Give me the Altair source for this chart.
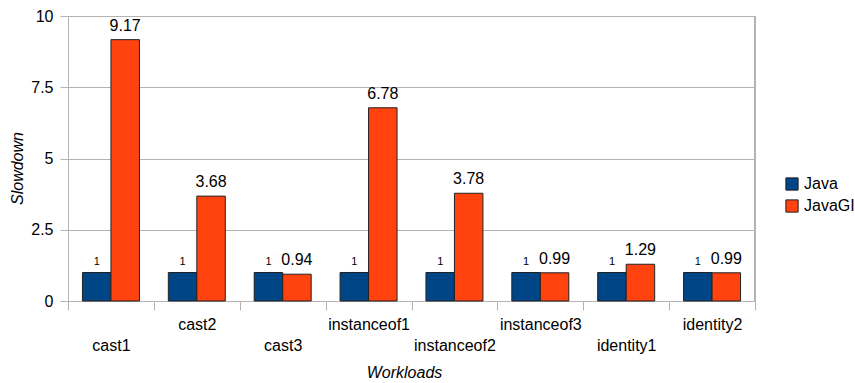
import altair as alt
import pandas as pd

categories = ["cast1", "cast2", "cast3", "instanceof1", "instanceof2", "instanceof3", "identity1", "identity2"]
series = ["Java", "JavaGI"]
java = [1, 1, 1, 1, 1, 1, 1, 1]
javagi = [9.17, 3.68, 0.94, 6.78, 3.78, 0.99, 1.29, 0.99]
y_ticks = [0, 2.5, 5, 7.5, 10]
colors = ["#004586", "#ff420e"]

rows = []
for c, a, b in zip(categories, java, javagi):
    rows.append({"workload": c, "series": "Java", "value": a})
    rows.append({"workload": c, "series": "JavaGI", "value": b})
df = pd.DataFrame(rows)

lower = categories[0::2]
lower_list = "[" + ",".join("'" + s + "'" for s in lower) + "]"
label_expr = f"indexof({lower_list}, datum.value) >= 0 ? ['', datum.label] : datum.label"

W, H = 687, 285
GRID = "#b3b3b3"
FONT = "Liberation Sans"
FS = 16

x_enc = alt.X(
    "workload:N",
    sort=categories,
    scale=alt.Scale(paddingInner=0, paddingOuter=0),
    axis=alt.Axis(
        title="Workloads",
        titleFontStyle="italic",
        titleFontWeight="normal",
        titleFontSize=FS,
        titleColor="#000000",
        titleX=336,
        titleY=76,
        titleBaseline="alphabetic",
        labelAngle=0,
        labelFontSize=FS,
        labelColor="#000000",
        labelExpr=label_expr,
        labelLineHeight=21,
        labelPadding=6,
        tickBand="extent",
        tickSize=9,
        tickColor=GRID,
        domainColor=GRID,
        grid=False,
    ),
)
xoff_enc = alt.XOffset("series:N", sort=series, scale=alt.Scale(paddingInner=0, paddingOuter=0.507))

bars = alt.Chart(df).mark_bar(stroke="#222222", strokeWidth=1).encode(
    x=x_enc,
    xOffset=xoff_enc,
    y=alt.Y(
        "value:Q",
        scale=alt.Scale(domain=[0, 10], nice=False),
        axis=alt.Axis(
            title="Slowdown",
            titleFontStyle="italic",
            titleFontWeight="normal",
            titleFontSize=FS,
            titleColor="#000000",
            titleX=-51,
            titleY=152,
            titleBaseline="middle",
            values=y_ticks,
            format=".1~f",
            labelFontSize=FS,
            labelColor="#000000",
            labelPadding=7,
            tickSize=8,
            tickColor=GRID,
            domainColor=GRID,
            gridColor=GRID,
        ),
    ),
    color=alt.Color(
        "series:N",
        sort=series,
        scale=alt.Scale(domain=series, range=colors),
        legend=alt.Legend(
            title=None,
            orient="none",
            legendX=716,
            legendY=160,
            symbolType="square",
            symbolSize=150,
            symbolStrokeColor="#222222",
            symbolStrokeWidth=1,
            symbolOpacity=1,
            labelFontSize=FS,
            labelColor="#000000",
            rowPadding=4,
            padding=0,
        ),
    ),
)

java_labels = alt.Chart(df).transform_filter(alt.datum.series == "Java").mark_text(
    baseline="alphabetic", dy=-8, fontSize=11, fill="#000000"
).encode(x=alt.X("workload:N", sort=categories), xOffset=xoff_enc, y="value:Q", text="value:Q")

gi_labels = alt.Chart(df).transform_filter(alt.datum.series == "JavaGI").mark_text(
    baseline="alphabetic", dy=-9, fontSize=FS, fill="#000000"
).encode(x=alt.X("workload:N", sort=categories), xOffset=xoff_enc, y="value:Q", text="value:Q")

right_edge = alt.Chart(df).mark_rule(color=GRID).encode(
    x=alt.value(W), y=alt.value(0), y2=alt.value(H)
)

chart = alt.layer(bars, java_labels, gi_labels, right_edge).properties(
    width=W, height=H,
    autosize=alt.AutoSizeParams(type="none"),
    padding={"left": 68, "top": 16, "right": 100, "bottom": 82},
).configure(font=FONT).configure_view(stroke=None)

chart.save("out.html", embed_options={"renderer": "svg", "actions": False})
